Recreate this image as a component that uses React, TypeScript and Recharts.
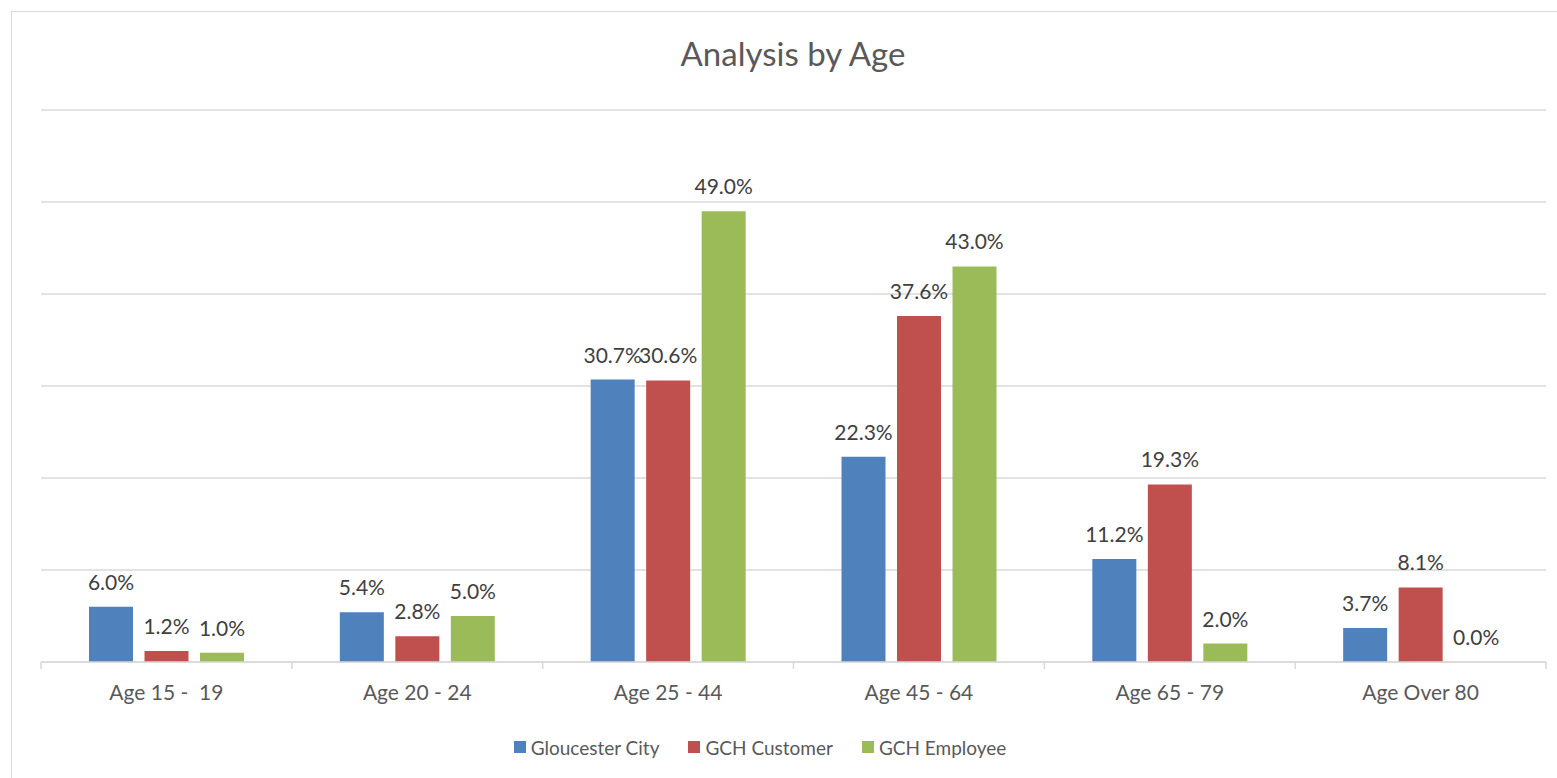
import { BarChart, Bar, XAxis, YAxis, CartesianGrid, Legend, LabelList } from 'recharts';

const ageBands = ['Age 15 -  19', 'Age 20 - 24', 'Age 25 - 44', 'Age 45 - 64', 'Age 65 - 79', 'Age Over 80'];
const gloucesterCity = [6.0, 5.4, 30.7, 22.3, 11.2, 3.7];
const gchCustomer = [1.2, 2.8, 30.6, 37.6, 19.3, 8.1];
const gchEmployee = [1.0, 5.0, 49.0, 43.0, 2.0, 0.0];
const gridTicks = [0, 10, 20, 30, 40, 50, 60];

const series = [
  { key: 'city', name: 'Gloucester City', color: '#4F81BD' },
  { key: 'customer', name: 'GCH Customer', color: '#C0504D' },
  { key: 'employee', name: 'GCH Employee', color: '#9BBB59' },
];

const data = ageBands.map((band, i) => ({
  band,
  city: gloucesterCity[i],
  customer: gchCustomer[i],
  employee: gchEmployee[i],
}));

const FONT = 'Lato, "Noto Sans", sans-serif';
const AXIS_GREY = '#d9d9d9';

const pct = (v: unknown) => (typeof v === 'number' ? `${v.toFixed(1)}%` : '');

// zero values still need a rectangle entry so their label gets drawn
const keepZero = (v: unknown) => (v === 0 ? 0.01 : 0);

// Category label plus tick marks on the band edges (Excel style)
function AgeTick(props: any) {
  const { x, y, payload, index } = props;
  const half = payload?.offset ?? 125.3;
  const last = index === ageBands.length - 1;
  return (
    <g>
      <line x1={x - half} x2={x - half} y1={y} y2={y + 7} stroke={AXIS_GREY} strokeWidth={1.5} />
      {last && <line x1={x + half} x2={x + half} y1={y} y2={y + 7} stroke={AXIS_GREY} strokeWidth={1.5} />}
      <text
        x={x}
        y={y + 38}
        textAnchor="middle"
        fill="#595959"
        fontSize={21}
        fontFamily={FONT}
        style={{ whiteSpace: 'pre' }}
      >
        {payload.value}
      </text>
    </g>
  );
}

// Value label above each bar
function ValueLabel(props: any) {
  const { x, y, width, value } = props;
  if (x == null || y == null) return null;
  return (
    <text
      x={Number(x) + Number(width) / 2}
      y={Number(y) - 17}
      textAnchor="middle"
      fill="#404040"
      fontSize={21}
      fontFamily={FONT}
    >
      {pct(value)}
    </text>
  );
}

function LegendRow() {
  return (
    <div
      style={{
        height: 30,
        display: 'flex',
        alignItems: 'center',
        justifyContent: 'center',
        paddingRight: 38,
        fontFamily: FONT,
        fontSize: 19,
        color: '#595959',
      }}
    >
      {series.map((s) => (
        <div key={s.key} style={{ display: 'flex', alignItems: 'center', marginRight: 29 }}>
          <span style={{ width: 12, height: 12, background: s.color, marginRight: 5, display: 'inline-block' }} />
          <span>{s.name}</span>
        </div>
      ))}
    </div>
  );
}

export default function App() {
  return (
    <div style={{ position: 'fixed', left: 0, top: 0, width: 1557, height: 778, background: '#fff', overflow: 'hidden' }}>
      <div
        style={{
          position: 'absolute',
          left: 11,
          top: 11,
          width: 1600,
          height: 800,
          borderLeft: `1.5px solid ${AXIS_GREY}`,
          borderTop: `1.5px solid ${AXIS_GREY}`,
        }}
      />
      <div
        style={{
          position: 'absolute',
          left: 0,
          width: 1586,
          top: 33,
          textAlign: 'center',
          fontFamily: FONT,
          fontSize: 33,
          color: '#595959',
        }}
      >
        Analysis by Age
      </div>
      <div style={{ position: 'absolute', left: 0, top: 0 }}>
        <BarChart
          width={1557}
          height={778}
          data={data}
          margin={{ top: 110, right: 11, left: 41, bottom: 16 }}
          barSize={44}
          barGap={11.5}
        >
          <CartesianGrid vertical={false} stroke={AXIS_GREY} strokeWidth={1.5} />
          <YAxis hide domain={[0, 60]} ticks={gridTicks} />
          <XAxis
            dataKey="band"
            interval={0}
            height={70}
            tickSize={0}
            tickMargin={0}
            tickLine={false}
            axisLine={{ stroke: AXIS_GREY, strokeWidth: 1.5 }}
            tick={<AgeTick />}
          />
          <Legend verticalAlign="bottom" height={30} content={<LegendRow />} />
          {series.map((s) => (
            <Bar
              key={s.key}
              dataKey={s.key}
              name={s.name}
              fill={s.color}
              minPointSize={keepZero}
              isAnimationActive={false}
            >
              <LabelList dataKey={s.key} content={<ValueLabel />} />
            </Bar>
          ))}
        </BarChart>
      </div>
    </div>
  );
}
